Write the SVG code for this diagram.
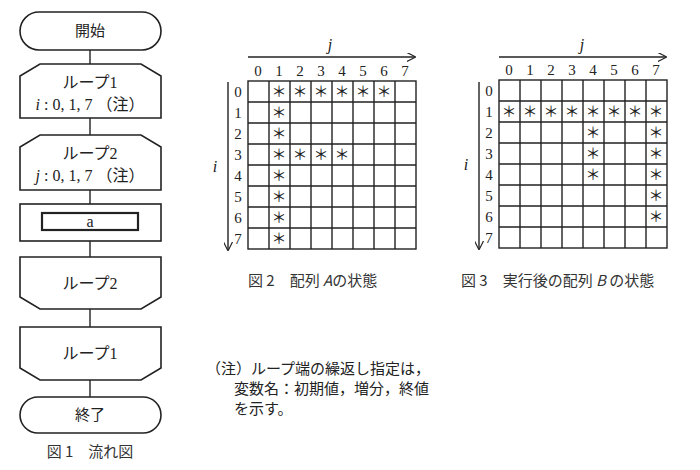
<svg xmlns="http://www.w3.org/2000/svg" width="700" height="470" viewBox="0 0 700 470">
<defs>
<style>
.s{fill:#fff;stroke:#222;stroke-width:1.6}
.g{fill:none;stroke:#222;stroke-width:1.4}
.t{font-family:"Liberation Serif","Noto Sans CJK JP",serif;font-size:16px;fill:#222;text-anchor:middle}
.j{font-family:"Noto Sans CJK JP",sans-serif;font-size:15px;fill:#222}
.c{font-family:"Noto Sans CJK JP",sans-serif;font-size:15px;fill:#333}
.n{font-family:"Liberation Serif",serif;font-size:15px;fill:#222;text-anchor:middle}
.st{font-family:"Noto Sans CJK JP",sans-serif;font-size:15px;fill:#222;text-anchor:middle}
</style>
<marker id="ah" viewBox="0 0 10 10" refX="9" refY="5" markerWidth="9" markerHeight="9" markerUnits="userSpaceOnUse" orient="auto"><path d="M0,0 L10,5 L0,10" fill="none" stroke="#222" stroke-width="1.3"/></marker>
</defs>
<rect width="700" height="470" fill="#fff"/>
<g id="connectors" stroke="#222" stroke-width="1.4">
<line x1="90" y1="50" x2="90" y2="64"/>
<line x1="90" y1="118" x2="90" y2="135"/>
<line x1="90" y1="190" x2="90" y2="204"/>
<line x1="90" y1="241" x2="90" y2="257"/>
<line x1="90" y1="309" x2="90" y2="327"/>
<line x1="90" y1="380" x2="90" y2="397"/>
</g>
<g id="start"><rect class="s" x="20" y="12" width="141" height="38" rx="19"/><text class="j" x="90" y="36" text-anchor="middle">開始</text></g>
<g id="loop1"><path class="s" d="M40,64 H141 L161,76 V118 H20 V76 Z"/><text class="t" x="90" y="88">ループ1</text><text class="t" x="90" y="110"><tspan font-style="italic">i</tspan> : 0, 1, 7 （注）</text></g>
<g id="loop2"><path class="s" d="M40,135 H141 L161,147 V190 H20 V147 Z"/><text class="t" x="90" y="159">ループ2</text><text class="t" x="90" y="181"><tspan font-style="italic">j</tspan> : 0, 1, 7 （注）</text></g>
<g id="proc"><rect class="s" x="20" y="204" width="141" height="37"/><rect fill="none" stroke="#222" stroke-width="2.2" x="42" y="213" width="96" height="17"/><text class="t" x="90" y="227">a</text></g>
<g id="loop2end"><path class="s" d="M20,257 H161 V297 L141,309 H40 L20,297 Z"/><text class="t" x="90" y="289">ループ2</text></g>
<g id="loop1end"><path class="s" d="M20,327 H161 V368 L141,380 H40 L20,368 Z"/><text class="t" x="90" y="359">ループ1</text></g>
<g id="end"><rect class="s" x="20" y="397" width="141" height="36" rx="18"/><text class="j" x="90" y="420" text-anchor="middle">終了</text></g>
<text class="c" x="90" y="457" text-anchor="middle">図 1　流れ図</text>

<g id="figA">
<line class="g" x1="248" y1="57" x2="415" y2="57" marker-end="url(#ah)"/>
<text class="t" x="330" y="50" font-style="italic">j</text>
<line class="g" x1="228" y1="82" x2="228" y2="250" marker-end="url(#ah)"/>
<text class="t" x="215" y="172" font-style="italic">i</text>
<g class="g">
<rect x="248" y="81" width="168" height="168"/>
<path d="M269,81V249M290,81V249M311,81V249M332,81V249M353,81V249M374,81V249M395,81V249M248,102H416M248,123H416M248,144H416M248,165H416M248,186H416M248,207H416M248,228H416"/>
</g>
<g class="n"><text x="258" y="76">0</text><text x="279" y="76">1</text><text x="300" y="76">2</text><text x="321" y="76">3</text><text x="342" y="76">4</text><text x="363" y="76">5</text><text x="384" y="76">6</text><text x="405" y="76">7</text>
<text x="238" y="97">0</text><text x="238" y="118">1</text><text x="238" y="139">2</text><text x="238" y="160">3</text><text x="238" y="181">4</text><text x="238" y="202">5</text><text x="238" y="223">6</text><text x="238" y="244">7</text></g>
<g class="st"><text x="279" y="97">＊</text><text x="300" y="97">＊</text><text x="321" y="97">＊</text><text x="342" y="97">＊</text><text x="363" y="97">＊</text><text x="384" y="97">＊</text>
<text x="279" y="118">＊</text><text x="279" y="139">＊</text><text x="279" y="160">＊</text><text x="300" y="160">＊</text><text x="321" y="160">＊</text><text x="342" y="160">＊</text><text x="279" y="181">＊</text><text x="279" y="202">＊</text><text x="279" y="223">＊</text><text x="279" y="244">＊</text></g>
<text class="c" x="248" y="286">図 2　配列 <tspan font-style="italic">A</tspan>の状態</text>
</g>

<g id="figB">
<line class="g" x1="499" y1="57" x2="666" y2="57" marker-end="url(#ah)"/>
<text class="t" x="582" y="50" font-style="italic">j</text>
<line class="g" x1="479" y1="82" x2="479" y2="249" marker-end="url(#ah)"/>
<text class="t" x="466" y="170" font-style="italic">i</text>
<g class="g">
<rect x="499" y="80" width="168" height="168"/>
<path d="M520,80V248M541,80V248M562,80V248M583,80V248M604,80V248M625,80V248M646,80V248M499,101H667M499,122H667M499,143H667M499,164H667M499,185H667M499,206H667M499,227H667"/>
</g>
<g class="n"><text x="509" y="75">0</text><text x="530" y="75">1</text><text x="551" y="75">2</text><text x="572" y="75">3</text><text x="593" y="75">4</text><text x="614" y="75">5</text><text x="635" y="75">6</text><text x="656" y="75">7</text>
<text x="489" y="96">0</text><text x="489" y="117">1</text><text x="489" y="138">2</text><text x="489" y="159">3</text><text x="489" y="180">4</text><text x="489" y="201">5</text><text x="489" y="222">6</text><text x="489" y="243">7</text></g>
<g class="st"><text x="509" y="117">＊</text><text x="530" y="117">＊</text><text x="551" y="117">＊</text><text x="572" y="117">＊</text><text x="593" y="117">＊</text><text x="614" y="117">＊</text><text x="635" y="117">＊</text><text x="656" y="117">＊</text>
<text x="593" y="138">＊</text><text x="593" y="159">＊</text><text x="593" y="180">＊</text>
<text x="656" y="138">＊</text><text x="656" y="159">＊</text><text x="656" y="180">＊</text><text x="656" y="201">＊</text><text x="656" y="222">＊</text></g>
<text class="c" x="461" y="286">図 3　実行後の配列 <tspan font-style="italic">B</tspan> の状態</text>
</g>

<g id="note" class="j">
<text x="206" y="374">（注）ループ端の繰返し指定は，</text>
<text x="234" y="394">変数名：初期値，増分，終値</text>
<text x="234" y="414">を示す。</text>
</g>
</svg>
